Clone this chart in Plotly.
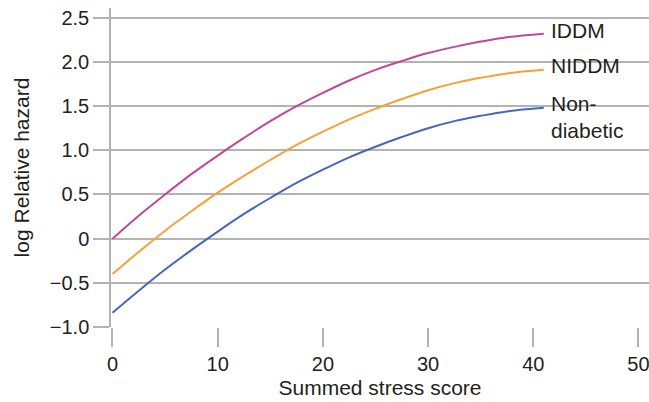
import plotly.graph_objects as go

# Summed stress score at which each curve was read
stress_score = [0, 2.5, 5, 7.5, 10, 12.5, 15, 17.5, 20, 22.5, 25, 27.5, 30, 32.5, 35, 37.5, 41]

# log relative hazard for each group
iddm = [0.00, 0.26, 0.50, 0.73, 0.94, 1.14, 1.33, 1.50, 1.65, 1.79, 1.91, 2.01, 2.10, 2.17, 2.23, 2.28, 2.32]
niddm = [-0.40, -0.15, 0.09, 0.31, 0.52, 0.71, 0.89, 1.06, 1.21, 1.35, 1.47, 1.58, 1.68, 1.76, 1.82, 1.87, 1.91]
non_diabetic = [-0.84, -0.59, -0.35, -0.13, 0.08, 0.28, 0.46, 0.63, 0.78, 0.92, 1.04, 1.15, 1.25, 1.33, 1.39, 1.44, 1.48]

series_names = ["IDDM", "NIDDM", "Non-<br>diabetic"]
series_values = [iddm, niddm, non_diabetic]
series_colors = ["#c1479b", "#f9a03a", "#4767bd"]
label_yshift = [3, 4, -9]

x_tick_vals = [0, 10, 20, 30, 40, 50]
x_tick_text = ["0", "10", "20", "30", "40", "50"]
y_tick_vals = [-1.0, -0.5, 0, 0.5, 1.0, 1.5, 2.0, 2.5]
y_tick_text = ["\u22121.0", "\u22120.5", "0", "0.5", "1.0", "1.5", "2.0", "2.5"]

GRID = "#b3b3b3"
TEXT = "#231f20"
FONT = "Liberation Sans, Arial, sans-serif"

fig = go.Figure()
for name, vals, col, ys in zip(series_names, series_values, series_colors, label_yshift):
    fig.add_trace(go.Scatter(
        x=stress_score, y=vals, mode="lines",
        line=dict(color=col, width=2, shape="spline", smoothing=1.0),
        showlegend=False, hoverinfo="skip",
    ))
    # end-of-line label
    fig.add_annotation(
        x=stress_score[-1], y=vals[-1], text=name, showarrow=False,
        xanchor="left", yanchor="middle", align="left",
        xshift=5, yshift=ys,
        font=dict(family=FONT, size=21, color=TEXT),
    )

fig.update_layout(
    width=649, height=402,
    margin=dict(l=111, r=0, t=8, b=75),
    paper_bgcolor="white", plot_bgcolor="white",
    font=dict(family=FONT, size=20, color=TEXT),
)

fig.update_xaxes(
    range=[-0.14, 51.0],
    tickvals=x_tick_vals, ticktext=x_tick_text,
    ticklabeloverflow="allow",
    showgrid=False, zeroline=False, showline=False,
    ticks="outside", ticklen=19, tickwidth=1.5, tickcolor=GRID,
    tickfont=dict(size=20, color=TEXT),
    title=dict(text="Summed stress score", font=dict(size=21, color=TEXT), standoff=6),
)
fig.update_yaxes(
    range=[-1.0, 2.61],
    tickvals=y_tick_vals, ticktext=y_tick_text,
    showgrid=True, gridcolor=GRID, gridwidth=1.5,
    zeroline=False,
    showline=True, linecolor=GRID, linewidth=1.5,
    ticks="outside", ticklen=16, tickwidth=1.5, tickcolor=GRID,
    tickfont=dict(size=20, color=TEXT),
    title=dict(text="log Relative hazard", font=dict(size=21, color=TEXT), standoff=14),
)

fig.write_html("out.html")
